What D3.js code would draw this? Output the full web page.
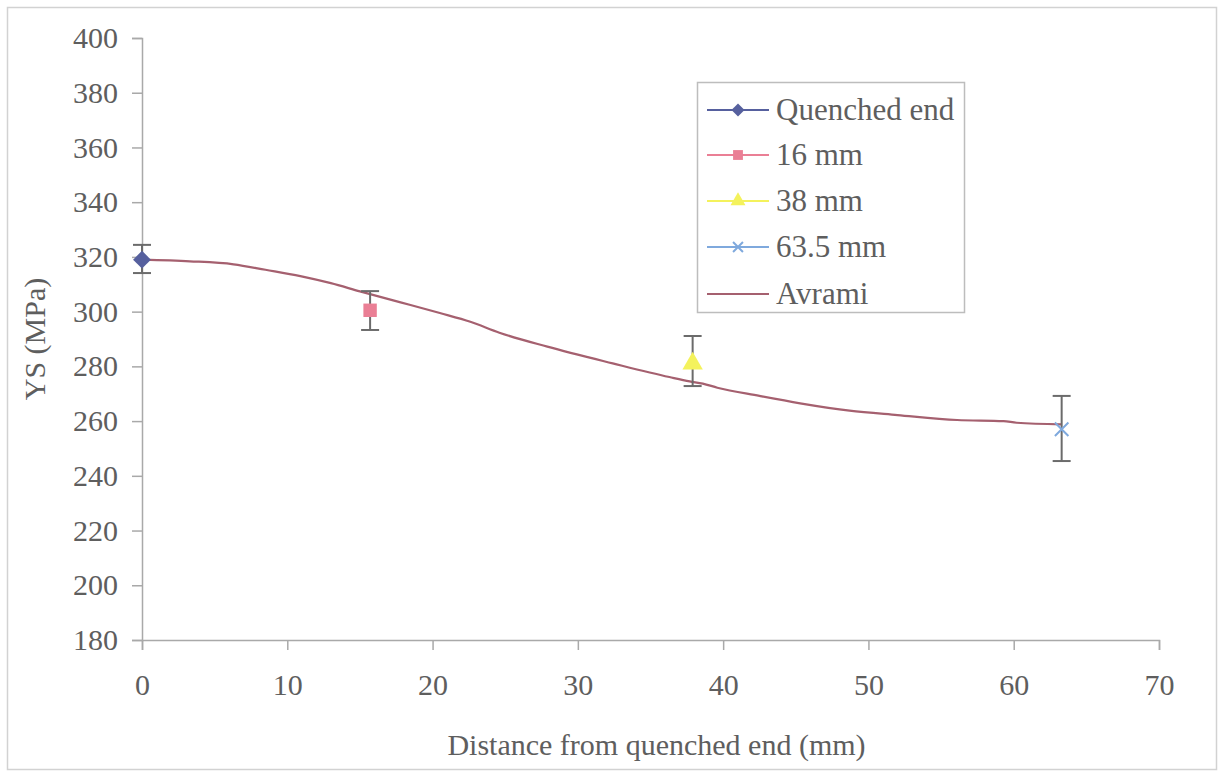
<!DOCTYPE html>
<html>
<head>
<meta charset="utf-8">
<script src="https://cdn.jsdelivr.net/npm/d3@7"></script>
</head>
<body style="margin:0;padding:0;background:#fff">
<svg id="chart" width="1219" height="774" style="display:block"></svg>
<script>
// Axis ticks
const xTicks = [0, 10, 20, 30, 40, 50, 60, 70];
const yTicks = [180, 200, 220, 240, 260, 280, 300, 320, 340, 360, 380, 400];

// Measured yield strength at each position, with error bar limits
const seriesNames = ["Quenched end", "16 mm", "38 mm", "63.5 mm"];
const seriesX     = [0, 15.7, 37.9, 63.3];
const seriesY     = [319.0, 300.5, 281.0, 257.0];
const errLow      = [314.1, 293.3, 272.8, 245.4];
const errHigh     = [324.4, 307.5, 291.1, 269.2];

// Avrami model prediction
const avramiX = [0, 3.3, 6.3, 8.5, 10.9, 13, 15, 17.8, 20.5, 22.6, 24.6, 27.9, 32.4, 36.3, 37.7, 38.6, 39.6, 42.5, 45.3, 48.7, 52, 56.1, 59.3, 60.2, 63.3];
const avramiY = [319.0, 318.4, 317.3, 315.3, 313.0, 310.4, 307.4, 303.4, 299.5, 296.3, 292.3, 287.2, 281.1, 276.1, 274.5, 273.7, 272.2, 269.2, 266.5, 263.8, 262.2, 260.4, 260.0, 259.4, 258.8];

const colors = ["#56609e", "#ea7f95", "#f4f25c", "#7fa9dd"];
const avramiColor = "#a5606f";
const FONT = '"Liberation Serif"';
const textColor = "#5e5e5e";

const svg = d3.select("#chart");
const W = 1219, H = 774;
const margin = { left: 142, right: W - 1159, top: 38, bottom: H - 640 };

// Outer frame
svg.append("rect")
  .attr("x", 7.5).attr("y", 7.5)
  .attr("width", 1209).attr("height", 762)
  .attr("fill", "#fff").attr("stroke", "#d2d2d2").attr("stroke-width", 1.5);

const x = d3.scaleLinear().domain([0, 70]).range([margin.left, W - margin.right]);
const y = d3.scaleLinear().domain([180, 400]).range([H - margin.bottom, margin.top]);

const axisColor = "#a9a9a9";

// X axis
const gx = svg.append("g")
  .attr("transform", `translate(0,${y(180)})`)
  .call(d3.axisBottom(x).tickValues(xTicks).tickSize(10).tickPadding(24).tickFormat(d3.format("d")));
gx.attr("font-family", FONT).attr("font-size", 30);
gx.select(".domain").attr("stroke", axisColor).attr("stroke-width", 1.5);
gx.selectAll(".tick line").attr("stroke", axisColor).attr("stroke-width", 1.5);
gx.selectAll(".tick text").attr("font-family", FONT).attr("font-size", 30).attr("fill", textColor);

// Y axis
const gy = svg.append("g")
  .attr("transform", `translate(${x(0)},0)`)
  .call(d3.axisLeft(y).tickValues(yTicks).tickSize(10).tickPadding(14).tickFormat(d3.format("d")));
gy.attr("font-family", FONT).attr("font-size", 30);
gy.select(".domain").attr("stroke", axisColor).attr("stroke-width", 1.5);
gy.selectAll(".tick line").attr("stroke", axisColor).attr("stroke-width", 1.5);
gy.selectAll(".tick text").attr("font-family", FONT).attr("font-size", 30).attr("fill", textColor);

// Axis titles
svg.append("text")
  .attr("x", (x(0) + x(70)) / 2 + 6).attr("y", 755)
  .attr("text-anchor", "middle").attr("font-size", 30).attr("font-family", FONT).attr("fill", textColor)
  .text("Distance from quenched end (mm)");

svg.append("text")
  .attr("transform", `translate(45,${(y(180) + y(400)) / 2}) rotate(-90)`)
  .attr("text-anchor", "middle").attr("font-size", 30).attr("font-family", FONT).attr("fill", textColor)
  .text("YS (MPa)");

// Avrami curve
const line = d3.line().x(d => x(d[0])).y(d => y(d[1])).curve(d3.curveMonotoneX);
svg.append("path")
  .datum(avramiX.map((v, i) => [v, avramiY[i]]))
  .attr("d", line)
  .attr("fill", "none").attr("stroke", avramiColor).attr("stroke-width", 2.2);

// Error bars
const errColor = "#6b6b6b";
const eb = svg.append("g");
seriesX.forEach((xv, i) => {
  const cx = x(xv);
  eb.append("line").attr("x1", cx).attr("x2", cx)
    .attr("y1", y(errLow[i])).attr("y2", y(errHigh[i]))
    .attr("stroke", errColor).attr("stroke-width", 2);
  [errLow[i], errHigh[i]].forEach(v => {
    eb.append("line").attr("x1", cx - 9).attr("x2", cx + 9)
      .attr("y1", y(v)).attr("y2", y(v))
      .attr("stroke", errColor).attr("stroke-width", 2);
  });
});

// Marker drawing
function drawMarker(g, i, cx, cy, s) {
  const c = colors[i];
  const area = s * s;
  if (i === 0) {
    g.append("path").attr("d", d3.symbol(d3.symbolDiamond2, area * 0.9)()).attr("transform", `translate(${cx},${cy})`)
      .attr("fill", c);
  } else if (i === 1) {
    g.append("path").attr("d", d3.symbol(d3.symbolSquare, area * 0.8)()).attr("transform", `translate(${cx},${cy})`)
      .attr("fill", c);
  } else if (i === 2) {
    g.append("path").attr("d", d3.symbol(d3.symbolTriangle, area * 0.8)()).attr("transform", `translate(${cx},${cy})`)
      .attr("fill", c);
  } else {
    const r = s * 0.45;
    g.append("path").attr("d", `M${-r},${-r}L${r},${r}M${-r},${r}L${r},${-r}`)
      .attr("transform", `translate(${cx},${cy})`)
      .attr("stroke", c).attr("stroke-width", 2).attr("fill", "none");
  }
}

const marks = svg.append("g");
seriesX.forEach((xv, i) => drawMarker(marks, i, x(xv), y(seriesY[i]), 15));

// Legend
const lg = svg.append("g");
lg.append("rect").attr("x", 697.5).attr("y", 82.5).attr("width", 267).attr("height", 230)
  .attr("fill", "#fff").attr("stroke", "#bdbdbd").attr("stroke-width", 1.5);
const rowY = [110, 155, 201, 247, 294];
const legendNames = seriesNames.concat(["Avrami"]);
const legendColors = colors.concat([avramiColor]);
legendNames.forEach((name, i) => {
  const yy = rowY[i];
  lg.append("line").attr("x1", 707).attr("x2", 769).attr("y1", yy).attr("y2", yy)
    .attr("stroke", legendColors[i]).attr("stroke-width", 2);
  if (i < 4) drawMarker(lg, i, 738, yy, 11);
  lg.append("text").attr("x", 776).attr("y", yy + 10)
    .attr("font-size", 31).attr("font-family", FONT).attr("fill", textColor).text(name);
});
</script>
</body>
</html>
